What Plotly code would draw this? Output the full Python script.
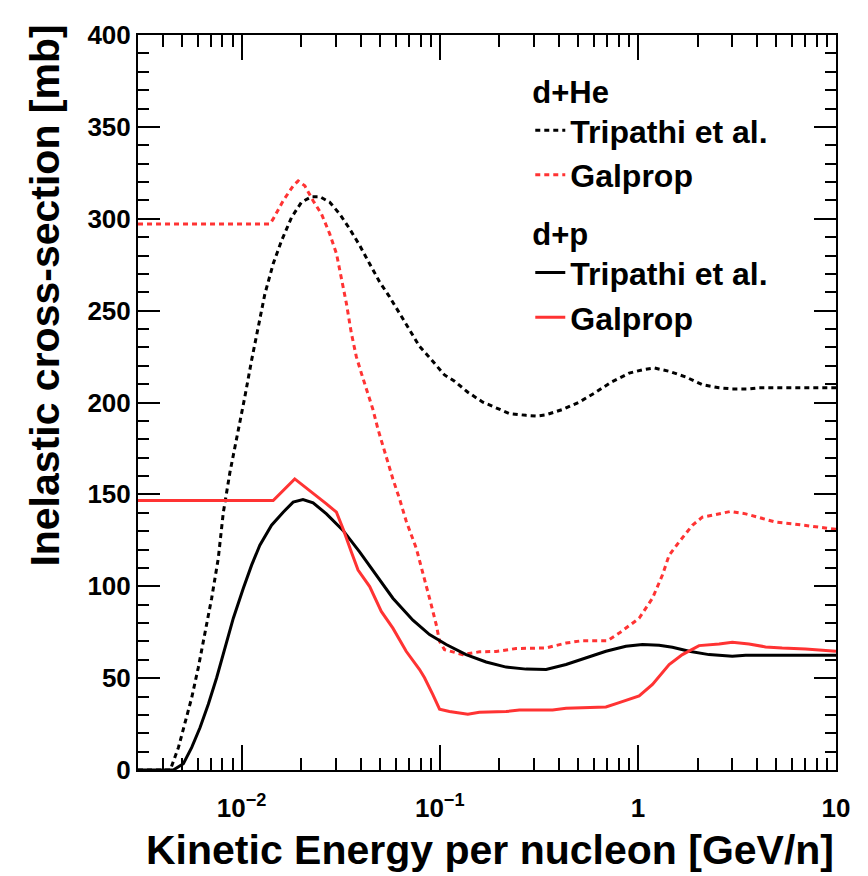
import plotly.graph_objects as go

# d+He, Tripathi et al. (black dashed)
he_trip_e = [0.003, 0.00436, 0.0048, 0.00518, 0.0056, 0.00604, 0.00653, 0.00706, 0.00762,
             0.00808, 0.00873, 0.00944, 0.0104, 0.01123, 0.01213, 0.0131, 0.01443, 0.0159,
             0.01787, 0.02005, 0.02253, 0.0248, 0.02784, 0.03126, 0.0351, 0.03943, 0.04427,
             0.04972, 0.05583, 0.0627, 0.0704, 0.0791, 0.0871, 0.0923, 0.1057, 0.1188, 0.1386,
             0.1649, 0.1927, 0.2248, 0.2728, 0.3064, 0.344, 0.417, 0.506, 0.614, 0.731, 0.904,
             1.055, 1.208, 1.438, 1.745, 2.115, 2.57, 2.997, 3.637, 4.08, 5.35, 10.0]
he_trip_xs = [0, 0, 12.3, 25, 39.4, 55.6, 73.7, 93.5, 115,
              140, 162, 180, 203.5, 223, 241, 259, 275.5, 288,
              300.8, 309, 312, 312, 309, 302.6, 294.5, 285.5, 275.5,
              265.6, 257.5, 248.5, 239.5, 230.5, 225.5, 222.4, 215, 211.6, 205.6,
              200.2, 197.1, 194, 193, 192.6, 193.3, 196.2, 200.2, 205.6, 211, 216,
              217.8, 218.8, 217, 213.9, 209.7, 208, 207.4, 207.4, 208, 208, 208]

# d+He, Galprop (red dashed)
he_gal_e = [0.003, 0.0139, 0.01443, 0.01621, 0.0182, 0.01929, 0.02085, 0.02295, 0.0253,
            0.02784, 0.03011, 0.0319, 0.0338, 0.0358, 0.0379, 0.0402, 0.0426, 0.046, 0.0488,
            0.0527, 0.058, 0.0627, 0.0677, 0.0762, 0.0838, 0.0906, 0.096, 0.0998, 0.1057,
            0.1307, 0.1585, 0.1927, 0.2428, 0.344, 0.434, 0.526, 0.703, 0.805, 1.015, 1.185,
            1.33, 1.438, 1.615, 1.884, 2.115, 2.57, 2.94, 3.5, 4.08, 4.96, 6.01, 7.58, 10.0]
he_gal_xs = [297.2, 297.2, 299.9, 309.8, 317.9, 320.6, 317.9, 309.8, 302.6,
             291.8, 281, 268.4, 253.9, 237.7, 225.1, 216, 207, 196.2, 185.4,
             172.8, 158.4, 147.5, 135.5, 120.5, 104.3, 89.9, 79.1, 70, 65.5,
             62.8, 64.3, 64.5, 66.1, 66.4, 69.1, 70.4, 70.4, 74.5, 82.6, 93.5,
             106.1, 116.9, 124.1, 133.2, 137.6, 139.4, 140.7, 139.4, 137.6, 134.9, 134, 132.8, 131]

# d+p, Tripathi et al. (black solid)
p_trip_e = [0.003, 0.00452, 0.00508, 0.0056, 0.00617, 0.00679, 0.00748, 0.00824, 0.00908,
            0.0102, 0.01123, 0.01236, 0.01416, 0.01621, 0.0182, 0.0204, 0.02295, 0.0268,
            0.0325, 0.0394, 0.0479, 0.058, 0.0732, 0.0888, 0.1078, 0.1358, 0.1714, 0.2163,
            0.2728, 0.344, 0.434, 0.547, 0.69, 0.87, 1.055, 1.28, 1.494, 1.813, 2.286,
            2.997, 3.5, 10.0]
p_trip_xs = [0, 0, 3.4, 12.3, 23.1, 35.8, 50.2, 66.4, 82.6,
             98.9, 111.5, 122.3, 133.2, 140.3, 145.8, 147.2, 145.4, 139.4,
             130.4, 118.7, 106.1, 93.5, 81.5, 73.7, 68.3, 62.8, 58.8, 56,
             54.9, 54.7, 57.4, 61, 64.6, 67.3, 68.3, 67.9, 66.8, 64.6, 62.8,
             61.9, 62.5, 62.5]

# d+p, Galprop (red solid)
p_gal_e = [0.003, 0.01443, 0.01854, 0.0204, 0.02387, 0.0268, 0.0301, 0.0325, 0.0358,
           0.0387, 0.0443, 0.0507, 0.058, 0.0677, 0.0791, 0.0838, 0.0923, 0.0998, 0.1119,
           0.1386, 0.1585, 0.2163, 0.2523, 0.3713, 0.434, 0.547, 0.69, 0.805, 1.015, 1.185,
           1.438, 1.678, 2.036, 2.57, 2.997, 3.637, 4.41, 5.35, 7.02, 10.0]
p_gal_xs = [146.7, 146.7, 158.4, 155, 149.4, 144.8, 140.3, 131.3, 118.7,
            108.8, 99.8, 86.3, 77.2, 64.6, 54.7, 50.2, 41, 33.1, 31.8,
            30.4, 31.4, 31.8, 32.6, 32.7, 33.6, 34, 34.3, 36.7, 40.3, 46.6,
            57.4, 62.8, 67.7, 68.6, 69.5, 68.6, 67, 66.4, 65.9, 64.6]

x_tickvals = [0.01, 0.1, 1, 10]
x_ticktext = ["10<sup>\u22122</sup>", "10<sup>\u22121</sup>", "1", "10"]

RED = "#ff3333"
DASH = "5px,4px"

fig = go.Figure()
fig.add_trace(go.Scatter(x=he_trip_e, y=he_trip_xs, mode="lines", name="Tripathi et al.",
                         line=dict(color="black", width=3, dash=DASH), legend="legend"))
fig.add_trace(go.Scatter(x=he_gal_e, y=he_gal_xs, mode="lines", name="Galprop",
                         line=dict(color=RED, width=3, dash=DASH), legend="legend"))
fig.add_trace(go.Scatter(x=p_trip_e, y=p_trip_xs, mode="lines", name="Tripathi et al.",
                         line=dict(color="black", width=3), legend="legend2"))
fig.add_trace(go.Scatter(x=p_gal_e, y=p_gal_xs, mode="lines", name="Galprop",
                         line=dict(color=RED, width=3), legend="legend2"))

# minor tick positions for the log axis (2..9 per decade)
minor_x = []
for d in range(-3, 1):
    for k in range(2, 10):
        v = k * 10 ** d
        if 0.003 <= v <= 10:
            minor_x.append(v)

fig.update_xaxes(type="log", range=[-2.523, 1], tickmode="array",
                 tickvals=x_tickvals, ticktext=x_ticktext,
                 ticks="inside", ticklen=25, tickwidth=2, tickcolor="black",
                 showline=True, linecolor="black", linewidth=2, mirror="allticks",
                 showgrid=False, zeroline=False, ticklabelstandoff=14,
                 tickfont=dict(size=26),
                 minor=dict(tickmode="array", tickvals=minor_x, ticks="inside",
                            ticklen=12, tickwidth=2, tickcolor="black", showgrid=False))
fig.update_yaxes(range=[0, 400], dtick=50, ticks="inside", ticklen=22, tickwidth=2,
                 tickcolor="black", showline=True, linecolor="black", linewidth=2,
                 mirror="allticks", showgrid=False, zeroline=False,
                 tickfont=dict(size=26),
                 minor=dict(dtick=10, ticks="inside", ticklen=11, tickwidth=2,
                            tickcolor="black", showgrid=False))

# page body has an 8px margin, so the figure is sized 8px smaller
fig.update_layout(
    width=860, height=868,
    margin=dict(l=130, r=32, t=22, b=106),
    paper_bgcolor="white", plot_bgcolor="white",
    font=dict(family="Liberation Sans", color="black", weight="bold"),
    legend=dict(title=dict(text="d+He", font=dict(size=31)), font=dict(size=32),
                x=0.562, y=0.9625, xanchor="left", yanchor="top",
                bgcolor="rgba(0,0,0,0)", itemwidth=30),
    legend2=dict(title=dict(text="d+p", font=dict(size=31)), font=dict(size=32),
                 x=0.562, y=0.7687, xanchor="left", yanchor="top",
                 bgcolor="rgba(0,0,0,0)", itemwidth=30),
    annotations=[
        dict(text="Kinetic Energy per nucleon [GeV/n]", xref="paper", yref="paper",
             x=1.0, y=-0.075, xanchor="right", yanchor="top", showarrow=False,
             font=dict(size=41)),
        dict(text="Inelastic cross-section [mb]", xref="paper", yref="paper",
             x=-0.169, y=1.0169, xanchor="left", yanchor="top", textangle=-90,
             showarrow=False, font=dict(size=41)),
    ],
)

fig.write_html("out.html")
